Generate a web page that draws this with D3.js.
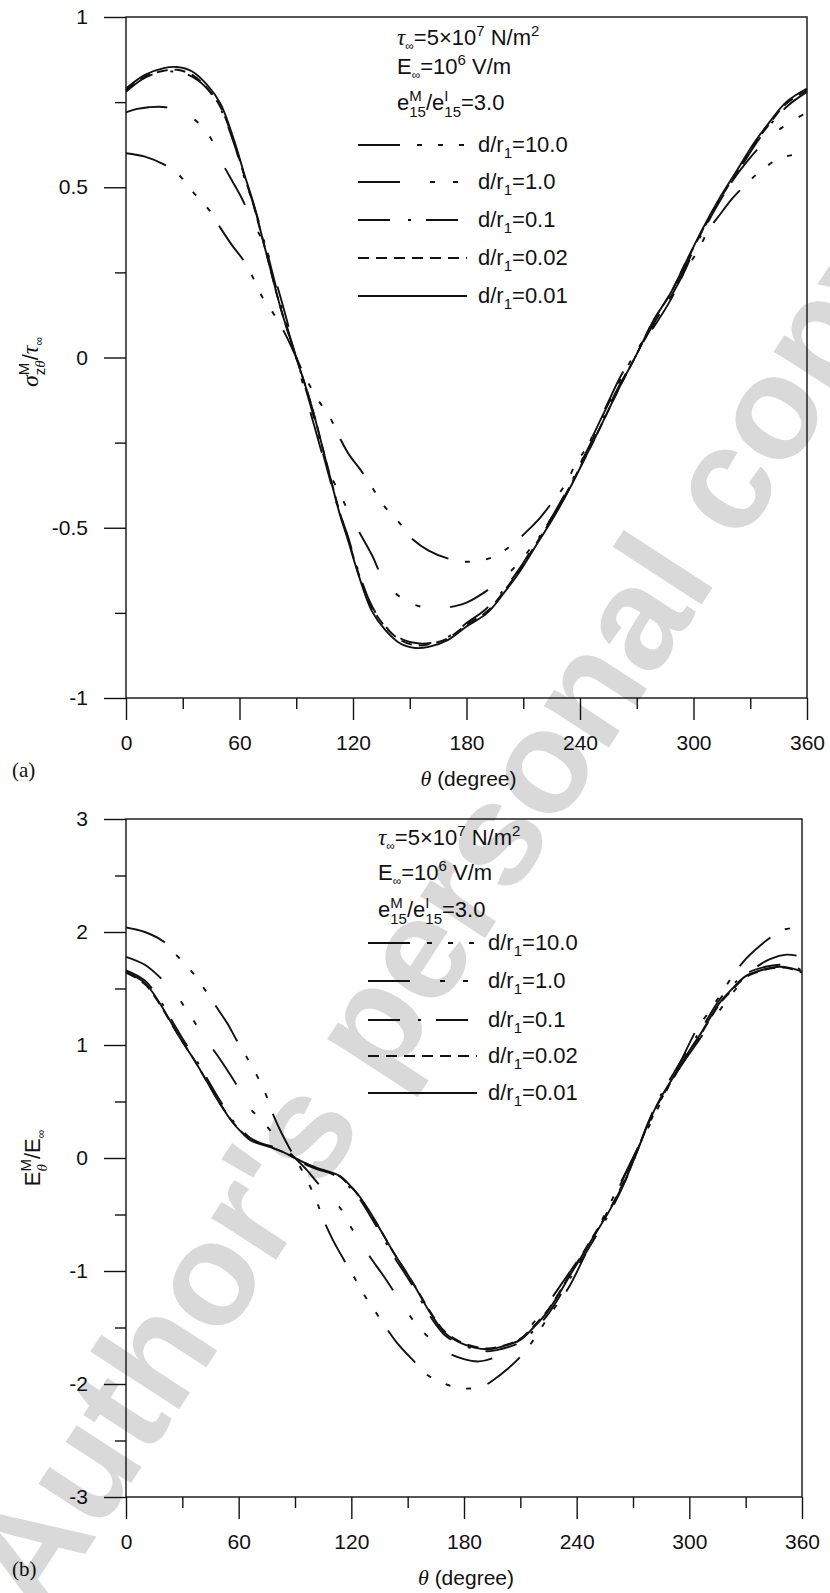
<!DOCTYPE html>
<html lang="en">
<head>
<meta charset="UTF-8">
<title>sigma / E vs theta</title>
<script src="https://cdn.jsdelivr.net/npm/d3@7"></script>
<style>
  body { margin: 0; background: #fff; }
  text { font-family: "Liberation Sans", Arial, sans-serif; fill: #111; white-space: pre; }
</style>
</head>
<body>
<script>
// ---- data: [theta (deg), value] ----
// (a) sigma_ztheta^M / tau_inf
const sig_10 = [[0,0.60],[10,0.59],[20,0.567],[28,0.536],[36,0.482],[44,0.433],[50,0.38],[56,0.33],[62,0.286],[67,0.236],[72,0.178],[79,0.12],[85,0.06],[90,0.0],[95,-0.06],[101,-0.12],[108,-0.178],[113,-0.236],[118,-0.286],[124,-0.33],[130,-0.38],[136,-0.433],[144,-0.482],[152,-0.536],[160,-0.567],[170,-0.59],[180,-0.60],[194,-0.586],[204,-0.55],[212,-0.51],[219,-0.47],[226,-0.42],[232,-0.375],[238,-0.31],[244,-0.26],[252,-0.17],[261,-0.07],[270,0.02],[279,0.09],[288,0.17],[296,0.26],[302,0.31],[308,0.375],[314,0.42],[321,0.47],[328,0.51],[336,0.55],[346,0.586],[360,0.60]]
const sig_1 = [[0,0.72],[6,0.73],[12,0.735],[21,0.735],[32,0.715],[43,0.66],[50,0.58],[56,0.52],[61,0.47],[66,0.41],[74,0.32],[80,0.21],[85,0.11],[90,0.0],[95,-0.11],[100,-0.21],[106,-0.32],[114,-0.41],[119,-0.47],[124,-0.52],[130,-0.58],[137,-0.66],[148,-0.715],[159,-0.735],[168,-0.735],[174,-0.73],[180,-0.72],[192,-0.68],[203,-0.63],[216,-0.545],[224,-0.48],[232,-0.41],[238,-0.34],[245,-0.25],[255,-0.13],[262,-0.05],[270,0.02],[278,0.09],[285,0.15],[295,0.25],[302,0.34],[308,0.41],[316,0.48],[324,0.545],[337,0.63],[348,0.68],[360,0.72]]
const sig_01 = [[0,0.78],[8,0.815],[16,0.835],[25,0.84],[33,0.83],[42,0.795],[50,0.73],[57,0.63],[63,0.52],[68,0.44],[75,0.30],[82,0.15],[90,0.0],[98,-0.15],[105,-0.30],[112,-0.44],[117,-0.52],[123,-0.63],[130,-0.73],[138,-0.795],[147,-0.83],[155,-0.84],[164,-0.835],[172,-0.815],[180,-0.78],[190,-0.74],[200,-0.68],[208,-0.62],[217,-0.54],[226,-0.46],[235,-0.37],[244,-0.27],[252,-0.18],[261,-0.08],[270,0.01],[279,0.10],[288,0.18],[296,0.27],[305,0.37],[314,0.46],[323,0.54],[332,0.62],[340,0.68],[350,0.74],[360,0.78]]
const sig_002 = [[0,0.785],[10,0.825],[20,0.842],[27,0.845],[35,0.83],[43,0.79],[50,0.735],[57,0.635],[63,0.525],[67,0.455],[74,0.31],[82,0.14],[90,0.0],[98,-0.14],[106,-0.31],[113,-0.455],[117,-0.525],[123,-0.635],[130,-0.735],[137,-0.79],[145,-0.83],[153,-0.845],[160,-0.842],[170,-0.825],[180,-0.785],[191,-0.745],[200,-0.685],[208,-0.625],[217,-0.545],[226,-0.465],[235,-0.375],[244,-0.28],[252,-0.19],[261,-0.086],[270,0.01],[279,0.11],[288,0.19],[296,0.28],[305,0.375],[314,0.465],[323,0.545],[332,0.625],[340,0.685],[349,0.745],[360,0.785]]
const sig_001 = [[0,0.79],[10,0.83],[20,0.85],[27,0.853],[35,0.84],[43,0.80],[50,0.745],[57,0.64],[63,0.53],[67,0.46],[74,0.31],[82,0.14],[90,0.0],[98,-0.14],[106,-0.31],[113,-0.46],[117,-0.53],[123,-0.64],[130,-0.745],[137,-0.80],[145,-0.84],[153,-0.853],[160,-0.85],[170,-0.83],[180,-0.79],[191,-0.75],[200,-0.69],[208,-0.63],[217,-0.55],[226,-0.47],[235,-0.38],[244,-0.28],[252,-0.19],[261,-0.086],[270,0.01],[279,0.11],[288,0.19],[296,0.28],[305,0.38],[314,0.47],[323,0.55],[332,0.63],[340,0.69],[349,0.75],[360,0.79]]

// (b) E_theta^M / E_inf
const e_10 = [[0,2.04],[10,2.00],[20,1.915],[26,1.81],[35,1.65],[42,1.49],[48,1.34],[54,1.19],[59,1.04],[64,0.90],[70,0.72],[75,0.54],[79,0.36],[85,0.15],[90,0.0],[95,-0.15],[101,-0.36],[105,-0.54],[110,-0.72],[116,-0.90],[121,-1.04],[126,-1.19],[132,-1.34],[138,-1.49],[145,-1.65],[154,-1.81],[160,-1.915],[170,-2.00],[180,-2.04],[190,-2.02],[196,-1.96],[203,-1.87],[210,-1.76],[217,-1.61],[224,-1.43],[231,-1.26],[236,-1.14],[245,-0.84],[252,-0.60],[260,-0.33],[270,0.0],[280,0.33],[288,0.60],[295,0.84],[304,1.14],[309,1.26],[316,1.43],[323,1.61],[330,1.76],[337,1.87],[344,1.96],[350,2.02],[360,2.04]]
const e_1 = [[0,1.78],[10,1.71],[18,1.60],[26,1.46],[35,1.24],[43,1.04],[49,0.90],[55,0.75],[61,0.59],[66,0.44],[72,0.34],[78,0.22],[84,0.10],[90,0.0],[96,-0.10],[102,-0.22],[108,-0.34],[114,-0.44],[119,-0.59],[125,-0.75],[131,-0.90],[137,-1.04],[145,-1.24],[154,-1.46],[162,-1.60],[170,-1.71],[180,-1.78],[188,-1.80],[197,-1.76],[205,-1.68],[215,-1.50],[225,-1.28],[235,-1.04],[245,-0.80],[255,-0.52],[262,-0.28],[270,0.0],[278,0.28],[285,0.52],[295,0.80],[305,1.04],[315,1.28],[325,1.50],[335,1.68],[343,1.76],[352,1.80],[360,1.78]]
const e_01 = [[0,1.66],[10,1.57],[18,1.40],[25,1.20],[30,1.06],[37,0.88],[44,0.68],[50,0.51],[57,0.33],[62,0.24],[66,0.18],[72,0.13],[78,0.10],[84,0.06],[90,0.0],[96,-0.06],[102,-0.10],[108,-0.13],[114,-0.18],[118,-0.24],[123,-0.33],[130,-0.51],[136,-0.68],[143,-0.88],[150,-1.06],[155,-1.20],[162,-1.40],[170,-1.57],[180,-1.66],[192,-1.71],[200,-1.69],[210,-1.63],[217,-1.53],[224,-1.40],[230,-1.25],[236,-1.08],[243,-0.89],[250,-0.70],[258,-0.47],[266,-0.20],[272,0.05],[278,0.31],[284,0.53],[292,0.76],[300,0.98],[306,1.13],[316,1.40],[323,1.53],[330,1.63],[340,1.69],[348,1.71],[354,1.70],[360,1.66]]
const e_002 = [[0,1.64],[10,1.54],[18,1.36],[25,1.165],[30,1.03],[37,0.85],[44,0.65],[50,0.485],[57,0.315],[62,0.225],[66,0.165],[72,0.125],[78,0.09],[84,0.05],[90,0.0],[96,-0.05],[102,-0.09],[108,-0.125],[114,-0.165],[118,-0.225],[123,-0.315],[130,-0.485],[136,-0.65],[143,-0.85],[150,-1.03],[155,-1.165],[162,-1.36],[170,-1.54],[180,-1.64],[192,-1.685],[200,-1.665],[210,-1.60],[217,-1.49],[224,-1.36],[230,-1.21],[236,-1.04],[243,-0.85],[250,-0.66],[258,-0.44],[266,-0.18],[272,0.05],[278,0.30],[284,0.50],[292,0.72],[300,0.94],[306,1.09],[316,1.36],[323,1.49],[330,1.60],[340,1.665],[348,1.685],[354,1.675],[360,1.64]]
const e_001 = [[0,1.65],[10,1.55],[18,1.37],[25,1.17],[30,1.03],[37,0.85],[44,0.65],[50,0.48],[57,0.31],[62,0.22],[66,0.16],[72,0.12],[78,0.09],[84,0.05],[90,0.0],[96,-0.05],[102,-0.09],[108,-0.12],[114,-0.16],[118,-0.22],[123,-0.31],[130,-0.48],[136,-0.65],[143,-0.85],[150,-1.03],[155,-1.17],[162,-1.37],[170,-1.55],[180,-1.65],[192,-1.693],[200,-1.67],[210,-1.61],[217,-1.50],[224,-1.37],[230,-1.22],[236,-1.05],[243,-0.86],[250,-0.67],[258,-0.45],[266,-0.19],[272,0.05],[278,0.30],[284,0.51],[292,0.73],[300,0.95],[306,1.10],[316,1.37],[323,1.50],[330,1.61],[340,1.67],[348,1.693],[354,1.68],[360,1.65]]

const legendLabels = ["10.0", "1.0", "0.1", "0.02", "0.01"]
const xMajor = [0, 60, 120, 180, 240, 300, 360]
const xMinor = [30, 90, 150, 210, 270, 330]
const yMajorA = [-1, -0.5, 0, 0.5, 1]
const yMinorA = [-0.75, -0.25, 0.25, 0.75]
const yMajorB = [-3, -2, -1, 0, 1, 2, 3]
const yMinorB = [-2.5, -1.5, -0.5, 0.5, 1.5, 2.5]
const watermarkWords = ["Author's", "personal", "copy"]

// dash pattern per d/r1 value, same order as legendLabels
const dashes = ["42,17,5,16,5,16,5,17", "42,30,5,18,5,30", "32,18,3,15", "11,7", null]

const W = 830, H = 1593
const INK = "#111"
const SERIF = "'Liberation Serif', 'Times New Roman', serif"

const svg = d3.select("body").append("svg")
    .attr("width", W)
    .attr("height", H)

// grey watermark behind everything, one text per word along a diagonal
const wm = { cx: 441, cy: 913, angle: -57, size: 146 }
{
    const g = svg.append("g")
    const mk = t => g.append("text")
        .attr("text-anchor", "start")
        .attr("dominant-baseline", "central")
        .style("font-size", wm.size + "px")
        .style("font-weight", "bold")
        .style("fill", "#d9d9d9")
        .text(t)
    const probe = mk(watermarkWords.join(" "))
    const total = probe.node().getComputedTextLength()
    probe.remove()
    const space = wm.size * 0.278
    const a = wm.angle * Math.PI / 180
    const ux = Math.cos(a), uy = Math.sin(a)
    let off = -total / 2
    watermarkWords.forEach(w => {
        const t = mk(w)
        const len = t.node().getComputedTextLength()
        const px = wm.cx + off * ux, py = wm.cy + off * uy
        t.attr("transform", `translate(${px},${py}) rotate(${wm.angle})`)
        off += len + space
    })
}

// lays out a run of text pieces left to right, returns the width
function rich(g, x, y, parts, size) {
    let cx = x
    parts.forEach(p => {
        if (p.sup || p.sub) {
            const a = p.sup ? rich(g, cx, y - 9, p.sup, 15) : 0
            const b = p.sub ? rich(g, cx, y + 7, p.sub, 15) : 0
            cx += Math.max(a, b)
            return
        }
        const el = g.append("text")
            .attr("x", cx)
            .attr("y", y + (p.dy || 0))
            .style("font-size", (p.size || size) + "px")
            .text(p.t)
        if (p.serif) el.style("font-family", SERIF)
        if (p.italic) el.style("font-style", "italic")
        cx += el.node().getComputedTextLength()
    })
    return cx - x
}

function panel(cfg) {
    const x = d3.scaleLinear().domain([0, 360]).range([cfg.left, cfg.right])
    const y = d3.scaleLinear().domain(cfg.yDomain).range([cfg.bottom, cfg.top])
    const g = svg.append("g")

    const style = a => a
        .attr("font-size", 21)
        .attr("font-family", "'Liberation Sans', Arial, sans-serif")
        .call(s => s.select(".domain").remove())
        .call(s => s.selectAll(".tick line").attr("stroke", INK).attr("stroke-width", 1.4))
        .call(s => s.selectAll(".tick text").attr("fill", INK))

    g.append("g")
        .attr("transform", `translate(0,${cfg.bottom})`)
        .call(d3.axisBottom(x).tickValues(xMajor).tickSize(22).tickPadding(15).tickFormat(d => String(d)))
        .call(style)
    g.append("g")
        .attr("transform", `translate(0,${cfg.bottom})`)
        .call(d3.axisBottom(x).tickValues(xMinor).tickSize(11).tickFormat(""))
        .call(style)
    g.append("g")
        .attr("transform", `translate(${cfg.left},0)`)
        .call(d3.axisLeft(y).tickValues(cfg.yMajor).tickSize(22).tickPadding(16).tickFormat(d => String(d)))
        .call(style)
    g.append("g")
        .attr("transform", `translate(${cfg.left},0)`)
        .call(d3.axisLeft(y).tickValues(cfg.yMinor).tickSize(11).tickFormat(""))
        .call(style)

    g.append("rect")
        .attr("x", cfg.left)
        .attr("y", cfg.top)
        .attr("width", cfg.right - cfg.left)
        .attr("height", cfg.bottom - cfg.top)
        .attr("fill", "none")
        .attr("stroke", INK)
        .attr("stroke-width", 1.4)

    const line = d3.line()
        .x(d => x(d[0]))
        .y(d => y(d[1]))
        .curve(d3.curveCatmullRom.alpha(0.5))

    cfg.series.forEach((s, i) => {
        g.append("path")
            .datum(s)
            .attr("d", line)
            .attr("fill", "none")
            .attr("stroke", INK)
            .attr("stroke-width", 1.9)
            .attr("stroke-dasharray", dashes[i])
    })

    // parameter block and legend
    const L = cfg.legend
    const hdr = L.header
    rich(g, L.hx, hdr[0], [
        { t: "τ", serif: true, italic: true, size: 23 },
        { t: "∞", size: 12, dy: 5 },
        { t: "=5×10" }, { t: "7", size: 15, dy: -9 },
        { t: "\u00A0N/m" }, { t: "2", size: 15, dy: -9 }
    ], 22)
    rich(g, L.hx, hdr[1], [
        { t: "E" }, { t: "∞", size: 12, dy: 5 },
        { t: "=10" }, { t: "6", size: 15, dy: -9 },
        { t: "\u00A0V/m" }
    ], 22)
    rich(g, L.hx, hdr[2], [
        { t: "e" }, { sup: [{ t: "M" }], sub: [{ t: "15" }] },
        { t: "/e" }, { sup: [{ t: "I" }], sub: [{ t: "15" }] },
        { t: "=3.0" }
    ], 22)

    legendLabels.forEach((lab, i) => {
        const by = L.rows[i]
        g.append("line")
            .attr("x1", L.lx)
            .attr("x2", L.lx + 109)
            .attr("y1", by - 7)
            .attr("y2", by - 7)
            .attr("stroke", INK)
            .attr("stroke-width", 1.9)
            .attr("stroke-dasharray", dashes[i])
        rich(g, L.tx, by, [
            { t: "d/r" }, { t: "1", size: 15, dy: 6 }, { t: "=" + lab }
        ], 22)
    })

    // rotated y title
    const yt = svg.append("g")
    const w = rich(yt, 0, 0, cfg.yTitle, 22)
    yt.attr("transform", `translate(${cfg.yTitleX},${cfg.yTitleY}) rotate(-90) translate(${-w / 2},0)`)

    // x title
    const xt = svg.append("g")
    const xw = rich(xt, 0, 0, [
        { t: "θ", serif: true, italic: true, size: 22 }, { t: "\u00A0(degree)" }
    ], 21)
    xt.attr("transform", `translate(${(cfg.left + cfg.right) / 2 - xw / 2 + 2},${cfg.bottom + 88})`)

    svg.append("text")
        .attr("x", 12)
        .attr("y", cfg.bottom + 79)
        .style("font-family", SERIF)
        .style("font-size", "21px")
        .text(cfg.tag)
}

panel({
    left: 126, right: 807, top: 17, bottom: 698,
    yDomain: [-1, 1], yMajor: yMajorA, yMinor: yMinorA,
    series: [sig_10, sig_1, sig_01, sig_002, sig_001],
    legend: { hx: 397, header: [45, 74, 110], lx: 358, tx: 478, rows: [152, 189, 227, 265, 303] },
    yTitle: [
        { t: "σ", serif: true, italic: true, size: 24 },
        { sup: [{ t: "M" }], sub: [{ t: "z" }, { t: "θ", serif: true, italic: true }] },
        { t: "/" }, { t: "τ", serif: true, italic: true, size: 24 }, { t: "∞", size: 12, dy: 5 }
    ],
    yTitleX: 38, yTitleY: 362,
    tag: "(a)"
})

panel({
    left: 126, right: 802, top: 819, bottom: 1497,
    yDomain: [-3, 3], yMajor: yMajorB, yMinor: yMinorB,
    series: [e_10, e_1, e_01, e_002, e_001],
    legend: { hx: 378, header: [845, 880, 917], lx: 368, tx: 488, rows: [950, 988, 1027, 1063, 1100] },
    yTitle: [
        { t: "E" },
        { sup: [{ t: "M" }], sub: [{ t: "θ", serif: true, italic: true }] },
        { t: "/E" }, { t: "∞", size: 12, dy: 5 }
    ],
    yTitleX: 40, yTitleY: 1158,
    tag: "(b)"
})
</script>
</body>
</html>
